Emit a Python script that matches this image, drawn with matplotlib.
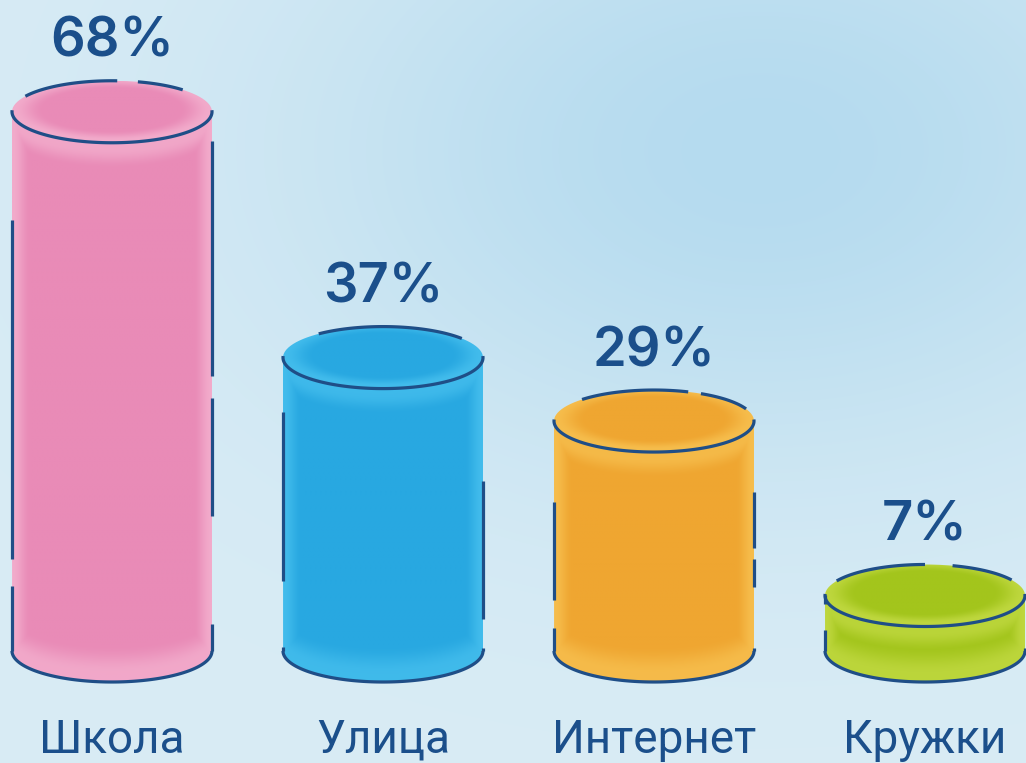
import numpy as np
import matplotlib
matplotlib.use("Agg")
import matplotlib.pyplot as plt
from matplotlib.path import Path
from matplotlib.patches import PathPatch

# ---------------- data ----------------
categories = ["Школа", "Улица", "Интернет", "Кружки"]
values = [68, 37, 29, 7]
labels = ["68%", "37%", "29%", "7%"]
body_dark = ["#e98bb7", "#28a8e1", "#efa631", "#a3c51c"]
body_light = ["#f2abcb", "#42bcec", "#f6bd4c", "#bed73e"]

# ---------------- style ----------------
W, H, DPI = 1026, 763, 100
PX_X = 271.0          # pixels per category step
PX_Y = 7.93           # pixels per percent
X0_PX, Y0_PX = 112.0, 651.0
HW = 100.0 / PX_X     # half width of cylinder (data units)
EH = 31.0 / PX_Y      # half height of ellipse (data units)
LINE = "#1f4e87"
TEXT = "#1b4f8b"
LW = 2.3

# outline patterns (fractions along side from top, and visible back-arc angle ranges in deg)
left_sides = [[(0.20, 0.83), (0.88, 1.0)], [(0.185, 0.76), (0.985, 1.0)],
              [(0.35, 0.78), (0.90, 1.0)], [(0.0, 0.15), (0.62, 1.0)]]
right_sides = [[(0.055, 0.49), (0.53, 0.75), (0.95, 1.0)], [(0.42, 0.89), (0.99, 1.0)],
               [(0.31, 0.55), (0.60, 0.72), (0.985, 1.0)], [(0.0, 0.05), (0.95, 1.0)]]
back_arcs = [[(45, 75), (87, 150)], [(38, 130)], [(23, 62), (70, 136)], [(30, 74), (90, 152)]]

fig = plt.figure(figsize=(W / DPI, H / DPI), dpi=DPI)
ax = fig.add_axes([0, 0, 1, 1])
xmin, xmax = (0 - X0_PX) / PX_X, (W - X0_PX) / PX_X
ymin, ymax = (Y0_PX - H) / PX_Y, (Y0_PX - 0) / PX_Y
ax.set_xlim(xmin, xmax)
ax.set_ylim(ymin, ymax)
ax.axis("off")

# ---------------- background ----------------
def hex2rgb(h):
    h = h.lstrip("#")
    return np.array([int(h[i:i + 2], 16) / 255 for i in (0, 2, 4)])

gy, gx = np.mgrid[0:H:2, 0:W:2]
base = hex2rgb("#d9ecf5")
blob = hex2rgb("#b5dbef")
d2 = ((gx - 760) / 450.0) ** 2 + ((gy - 150) / 300.0) ** 2
w = np.exp(-d2 * 0.9)
bg = base[None, None, :] * (1 - w[..., None]) + blob[None, None, :] * w[..., None]
ax.imshow(bg, extent=[xmin, xmax, ymin, ymax], origin="upper", aspect="auto",
          zorder=0, interpolation="bilinear")


def smooth(a, b, t):
    t = np.clip((t - a) / (b - a), 0, 1)
    return t * t * (3 - 2 * t)


for i, (v, cd, cl) in enumerate(zip(values, body_dark, body_light)):
    cx = i
    dk, lt = hex2rgb(cd), hex2rgb(cl)
    # --- body path
    th_b = np.linspace(np.pi, 2 * np.pi, 80)
    th_t = np.linspace(2 * np.pi, np.pi, 80)
    bx = np.concatenate([[cx - HW], cx + HW * np.cos(th_b), [cx + HW], cx + HW * np.cos(th_t)])
    by = np.concatenate([[v], EH * np.sin(th_b), [v], v + EH * np.sin(th_t)])
    body = PathPatch(Path(np.column_stack([bx, by])), facecolor="none", edgecolor="none")
    ax.add_patch(body)
    ny, nx = 300, 120
    xs = np.linspace(cx - HW, cx + HW, nx)
    ys = np.linspace(-EH, v + EH, ny)
    XX, YY = np.meshgrid(xs, ys)
    dx = np.clip(np.abs(XX - cx) / HW, 0, 1)
    arc = EH * np.sqrt(1 - dx ** 2)
    dtop = (v - arc - YY) * PX_Y
    dbot = (YY + arc) * PX_Y
    ex = smooth(0.82, 1.0, dx)
    et = 1 - smooth(6, 26, dtop)
    eb = 1 - smooth(8, 36, dbot)
    light = np.clip(np.maximum.reduce([ex, et * 0.85, eb * 0.9]), 0, 1)
    img = dk[None, None, :] * (1 - light[..., None]) + lt[None, None, :] * light[..., None]
    im = ax.imshow(img, extent=[cx - HW, cx + HW, -EH, v + EH], origin="lower",
                   aspect="auto", zorder=2, interpolation="bilinear")
    im.set_clip_path(body)

    # --- top ellipse
    th = np.linspace(0, 2 * np.pi, 200)
    top = PathPatch(Path(np.column_stack([cx + HW * np.cos(th), v + EH * np.sin(th)])),
                    facecolor="none", edgecolor="none")
    ax.add_patch(top)
    ys2 = np.linspace(v - EH, v + EH, 100)
    XX, YY = np.meshgrid(xs, ys2)
    r = np.sqrt(((XX - cx) / HW) ** 2 + ((YY - v - 0.3) / EH) ** 2)
    light = smooth(0.68, 1.0, r)
    img = dk[None, None, :] * (1 - light[..., None]) + lt[None, None, :] * light[..., None]
    im2 = ax.imshow(img, extent=[cx - HW, cx + HW, v - EH, v + EH], origin="lower",
                    aspect="auto", zorder=3, interpolation="bilinear")
    im2.set_clip_path(top)

    # --- outlines
    kw = dict(color=LINE, lw=LW, solid_capstyle="butt", zorder=4)
    tf = np.linspace(np.pi - 0.05, 2 * np.pi + 0.05, 120)
    ax.plot(cx + HW * np.cos(tf), v + EH * np.sin(tf), **kw)
    for a0, a1 in back_arcs[i]:
        tb = np.radians(np.linspace(a0, a1, 60))
        ax.plot(cx + HW * np.cos(tb), v + EH * np.sin(tb), **kw)
    bf = np.linspace(np.pi, 2 * np.pi, 120)
    ax.plot(cx + HW * np.cos(bf), EH * np.sin(bf), **kw)
    for (f0, f1) in left_sides[i]:
        ax.plot([cx - HW, cx - HW], [v - f0 * v, v - f1 * v], **kw)
    for (f0, f1) in right_sides[i]:
        ax.plot([cx + HW, cx + HW], [v - f0 * v, v - f1 * v], **kw)

    # --- labels
    ax.text(cx, v + EH + 24 / PX_Y, labels[i], ha="center", va="baseline",
            fontsize=39, fontweight="semibold", family="Inter", color=TEXT, zorder=5)
    ax.text(cx, (Y0_PX - 753) / PX_Y, categories[i], ha="center", va="baseline",
            fontsize=33, fontweight="normal", family="Roboto", color=TEXT, zorder=5)

fig.savefig("out.png", dpi=DPI)
